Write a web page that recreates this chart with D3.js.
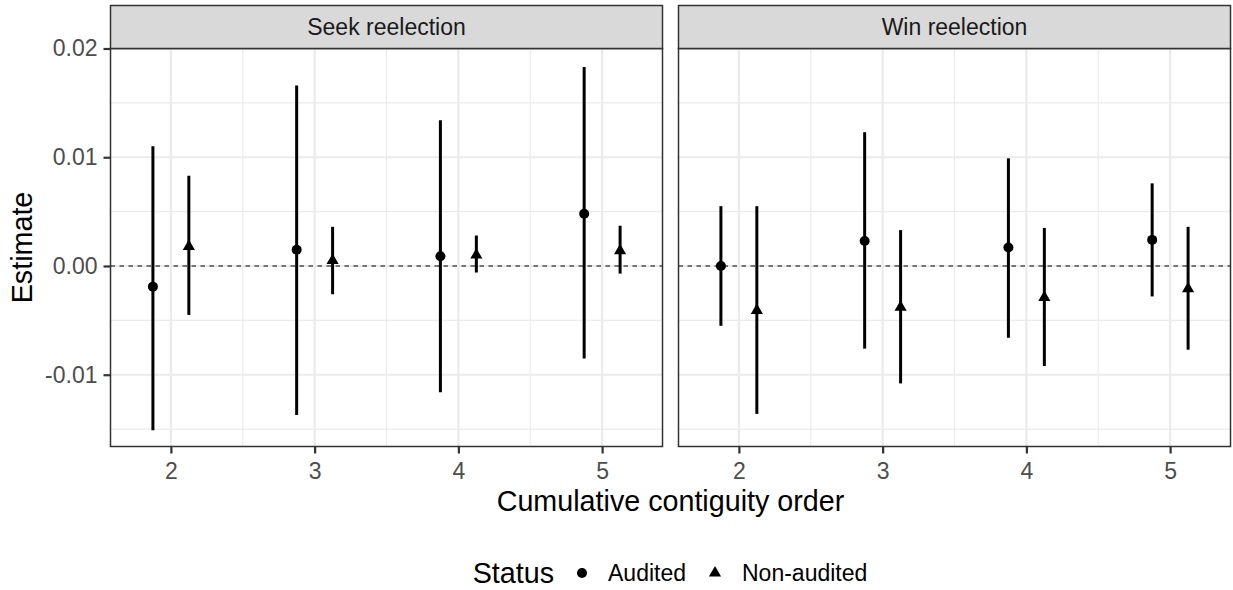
<!DOCTYPE html>
<html>
<head>
<meta charset="utf-8">
<script src="https://cdn.jsdelivr.net/npm/d3@7"></script>
<style>
  body { margin: 0; background: #fff; }
  svg { display: block; font-family: "Liberation Sans", Arial, sans-serif; }
</style>
</head>
<body>
<svg id="chart" width="1233" height="590"></svg>
<script>
// contiguity orders on the x axis
const orders = [2, 3, 4, 5];
const facets = ["Seek reelection", "Win reelection"];
const statuses = ["Audited", "Non-audited"];
const yTicks = [-0.01, 0.00, 0.01, 0.02];
const yMinor = [-0.015, -0.005, 0.005, 0.015];

// Seek reelection
const seekAuditedEst = [-0.0019, 0.0015, 0.0009, 0.0048];
const seekAuditedLo  = [-0.0151, -0.0137, -0.0116, -0.0085];
const seekAuditedHi  = [0.0110, 0.0166, 0.0134, 0.0183];
const seekNonEst = [0.0018, 0.0005, 0.0010, 0.0014];
const seekNonLo  = [-0.0045, -0.0026, -0.0006, -0.0007];
const seekNonHi  = [0.0083, 0.0036, 0.0028, 0.0037];

// Win reelection
const winAuditedEst = [0.0000, 0.0023, 0.0017, 0.0024];
const winAuditedLo  = [-0.0055, -0.0076, -0.0066, -0.0028];
const winAuditedHi  = [0.0055, 0.0123, 0.0099, 0.0076];
const winNonEst = [-0.0041, -0.0038, -0.0029, -0.0021];
const winNonLo  = [-0.0136, -0.0108, -0.0092, -0.0077];
const winNonHi  = [0.0055, 0.0033, 0.0035, 0.0036];

const rows = [];
function addRows(facet, status, est, lo, hi) {
  orders.forEach((o, i) => rows.push({ facet, status, order: o, est: est[i], lo: lo[i], hi: hi[i] }));
}
addRows(facets[0], statuses[0], seekAuditedEst, seekAuditedLo, seekAuditedHi);
addRows(facets[0], statuses[1], seekNonEst, seekNonLo, seekNonHi);
addRows(facets[1], statuses[0], winAuditedEst, winAuditedLo, winAuditedHi);
addRows(facets[1], statuses[1], winNonEst, winNonLo, winNonHi);

const svg = d3.select("#chart");

const panelTop = 48.5, panelBottom = 446.5;
const panelLefts = [110.5, 678.5];
const panelW = 552;
const stripH = 43;
const tickFont = 23, titleFont = 28.7;

const y = d3.scaleLinear().domain([-0.0166, 0.0200]).range([panelBottom, panelTop]);
const dodge = d3.scaleOrdinal().domain(statuses).range([-0.125, 0.125]);
const circle = d3.symbol().type(d3.symbolCircle).size(Math.PI * 25);
const tri = d3.symbol().type(d3.symbolTriangle).size(64);

facets.forEach((facet, fi) => {
  const x0 = panelLefts[fi];
  const x = d3.scaleLinear().domain([1.58, 5.42]).range([x0, x0 + panelW]);
  const g = svg.append("g");

  // background grid
  const xMinor = [2.5, 3.5, 4.5];
  g.selectAll(".ygm").data(yMinor).join("line")
    .attr("x1", x0).attr("x2", x0 + panelW)
    .attr("y1", d => y(d)).attr("y2", d => y(d))
    .attr("stroke", "#ebebeb").attr("stroke-width", 1.1);
  g.selectAll(".xgm").data(xMinor).join("line")
    .attr("x1", d => x(d)).attr("x2", d => x(d))
    .attr("y1", panelTop).attr("y2", panelBottom)
    .attr("stroke", "#ebebeb").attr("stroke-width", 1.1);
  g.selectAll(".yg").data(yTicks).join("line")
    .attr("x1", x0).attr("x2", x0 + panelW)
    .attr("y1", d => y(d)).attr("y2", d => y(d))
    .attr("stroke", "#ebebeb").attr("stroke-width", 2.2);
  g.selectAll(".xg").data(orders).join("line")
    .attr("x1", d => x(d)).attr("x2", d => x(d))
    .attr("y1", panelTop).attr("y2", panelBottom)
    .attr("stroke", "#ebebeb").attr("stroke-width", 2.2);

  // zero reference line
  g.append("line")
    .attr("x1", x0).attr("x2", x0 + panelW)
    .attr("y1", y(0)).attr("y2", y(0))
    .attr("stroke", "#000").attr("stroke-width", 1.2)
    .attr("stroke-dasharray", "4.5,4.5");

  const data = rows.filter(r => r.facet === facet);

  // error bars
  g.selectAll(".eb").data(data).join("line")
    .attr("x1", d => x(d.order + dodge(d.status)))
    .attr("x2", d => x(d.order + dodge(d.status)))
    .attr("y1", d => y(d.lo)).attr("y2", d => y(d.hi))
    .attr("stroke", "#000").attr("stroke-width", 3);

  // points
  g.selectAll(".pt").data(data).join("path")
    .attr("transform", d => `translate(${x(d.order + dodge(d.status))},${y(d.est)})`)
    .attr("d", d => d.status === "Audited" ? circle() : tri())
    .attr("fill", "#000");

  // panel border
  g.append("rect")
    .attr("x", x0).attr("y", panelTop).attr("width", panelW).attr("height", panelBottom - panelTop)
    .attr("fill", "none").attr("stroke", "#333333").attr("stroke-width", 1.5);

  // strip
  g.append("rect")
    .attr("x", x0).attr("y", panelTop - stripH).attr("width", panelW).attr("height", stripH)
    .attr("fill", "#d9d9d9").attr("stroke", "#333333").attr("stroke-width", 1.5);
  g.append("text")
    .attr("x", x0 + panelW / 2).attr("y", panelTop - stripH / 2)
    .attr("dy", "0.35em").attr("text-anchor", "middle")
    .attr("font-size", tickFont).attr("fill", "#1a1a1a")
    .text(facet);

  // x axis
  const xAxis = d3.axisBottom(x).tickValues(orders).tickSize(7).tickPadding(9).tickFormat(d3.format("d"));
  const ax = svg.append("g").attr("transform", `translate(0,${panelBottom})`).call(xAxis);
  ax.select(".domain").remove();
  ax.selectAll(".tick line").attr("stroke", "#333333").attr("stroke-width", 2.2);
  ax.selectAll(".tick text").attr("font-size", tickFont).attr("fill", "#4d4d4d")
    .attr("font-family", "Liberation Sans, Arial, sans-serif");
});

// y axis (plain hyphen for negatives, as in R)
const fmt = d3.format(".2f");
const yAxis = d3.axisLeft(y).tickValues(yTicks).tickSize(7).tickPadding(6)
  .tickFormat(d => fmt(d).replace("\u2212", "-"));
const ay = svg.append("g").attr("transform", `translate(${panelLefts[0]},0)`).call(yAxis);
ay.select(".domain").remove();
ay.selectAll(".tick line").attr("stroke", "#333333").attr("stroke-width", 2.2);
ay.selectAll(".tick text").attr("font-size", tickFont).attr("fill", "#4d4d4d")
  .attr("font-family", "Liberation Sans, Arial, sans-serif");

// axis titles
svg.append("text")
  .attr("x", (panelLefts[0] + panelLefts[1] + panelW) / 2).attr("y", 511)
  .attr("text-anchor", "middle").attr("font-size", titleFont).attr("fill", "#000")
  .text("Cumulative contiguity order");
svg.append("text")
  .attr("transform", `translate(32,${(panelTop + panelBottom) / 2}) rotate(-90)`)
  .attr("text-anchor", "middle").attr("font-size", titleFont).attr("fill", "#000")
  .text("Estimate");

// legend
const leg = svg.append("g");
leg.append("text").attr("x", 554).attr("y", 583).attr("text-anchor", "end")
  .attr("font-size", titleFont).text("Status");
const legItems = [
  { status: statuses[0], sx: 582, tx: 608 },
  { status: statuses[1], sx: 715, tx: 742 }
];
legItems.forEach(it => {
  leg.append("path")
    .attr("transform", `translate(${it.sx},573)`)
    .attr("d", it.status === "Audited"
      ? d3.symbol().type(d3.symbolCircle).size(Math.PI * 25)()
      : d3.symbol().type(d3.symbolTriangle).size(64)())
    .attr("fill", "#000");
  leg.append("text").attr("x", it.tx).attr("y", 581).attr("font-size", tickFont)
    .attr("fill", "#000").text(it.status);
});
</script>
</body>
</html>
